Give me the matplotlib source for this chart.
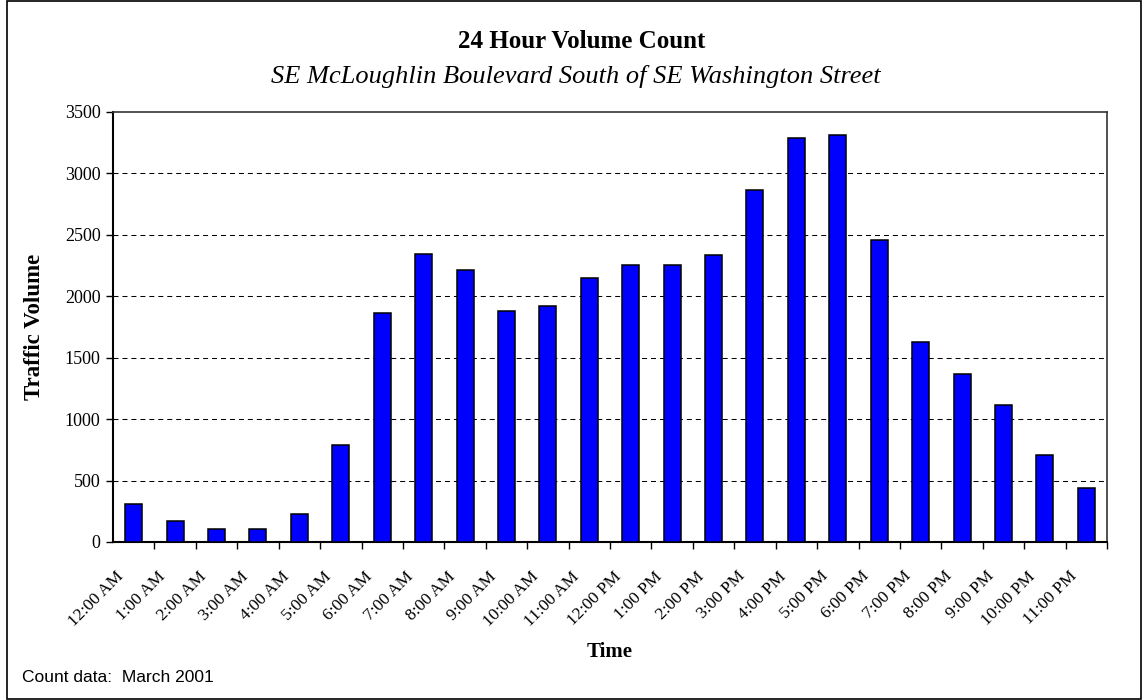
import numpy as np
import matplotlib.pyplot as plt
from matplotlib.patches import Rectangle

# Hourly counts, SE McLoughlin Blvd south of SE Washington St
hours = ["12:00 AM", "1:00 AM", "2:00 AM", "3:00 AM", "4:00 AM", "5:00 AM",
         "6:00 AM", "7:00 AM", "8:00 AM", "9:00 AM", "10:00 AM", "11:00 AM",
         "12:00 PM", "1:00 PM", "2:00 PM", "3:00 PM", "4:00 PM", "5:00 PM",
         "6:00 PM", "7:00 PM", "8:00 PM", "9:00 PM", "10:00 PM", "11:00 PM"]
volume = [310, 174, 109, 109, 231, 793, 1868, 2346, 2213, 1879, 1917, 2145,
          2257, 2257, 2335, 2862, 3286, 3316, 2455, 1624, 1369, 1116, 711, 443]
y_ticks = [0, 500, 1000, 1500, 2000, 2500, 3000, 3500]

serif = "Liberation Serif"
W, H = 1143, 700

fig = plt.figure(figsize=(W / 100, H / 100), dpi=100)
ax = fig.add_axes([113/W, 1 - 542/H, 994/W, 430/H])

x = np.arange(len(hours))
ax.bar(x, volume, width=0.41, color="#0000ff", edgecolor="black",
       linewidth=1.1, zorder=3)

ax.set_xlim(-0.5, len(hours) - 0.5)
ax.set_ylim(0, 3500)
ax.set_yticks(y_ticks)
ax.set_yticklabels([str(v) for v in y_ticks], fontfamily=serif, fontsize=13)

# slanted hour labels, ending a little left of each bar
ax.set_xticks(x - 0.43)
ax.set_xticklabels(hours, rotation=45, ha="right", va="top",
                   rotation_mode="anchor", fontfamily=serif, fontsize=12.5)
ax.tick_params(axis="x", which="major", length=0, pad=19)
# tick marks on category boundaries
ax.set_xticks(np.arange(0.5, len(hours)), minor=True)
ax.tick_params(axis="x", which="minor", length=5, width=1, direction="out")
ax.tick_params(axis="y", length=5, width=1, direction="out", pad=4)

for v in y_ticks[1:-1]:
    ax.axhline(v, color="black", linewidth=0.75, linestyle=(0, (4.8, 3.8)),
               zorder=1)

for side in ["left", "bottom"]:
    ax.spines[side].set_linewidth(1.5)
for side in ["top", "right"]:
    ax.spines[side].set_linewidth(1.2)
    ax.spines[side].set_color("#333333")

fig.text(35/W, 1 - 327/H, "Traffic Volume", fontfamily=serif, fontsize=16.5,
         fontweight="bold", rotation=90, ha="center", va="center")
fig.text(610/W, 1 - 652/H, "Time", fontfamily=serif, fontsize=15,
         fontweight="bold", ha="center", va="center")

fig.text(582/W, 1 - 41/H, "24 Hour Volume Count", fontfamily=serif,
         fontsize=18, fontweight="bold", ha="center", va="center")
fig.text(576/W, 1 - 77/H, "SE McLoughlin Boulevard South of SE Washington Street",
         fontfamily=serif, fontsize=19, style="italic", ha="center", va="center")

fig.text(22/W, 1 - 678/H, "Count data:  March 2001",
         fontfamily="Liberation Sans", fontsize=12.5, ha="left", va="center")

# outer frame around the whole chart
fig.patches.append(Rectangle((7/W, 1/H), 1 - 9/W, 1 - 2/H, transform=fig.transFigure,
                             fill=False, edgecolor="black", linewidth=1.2))

fig.savefig("out.png", dpi=100)
